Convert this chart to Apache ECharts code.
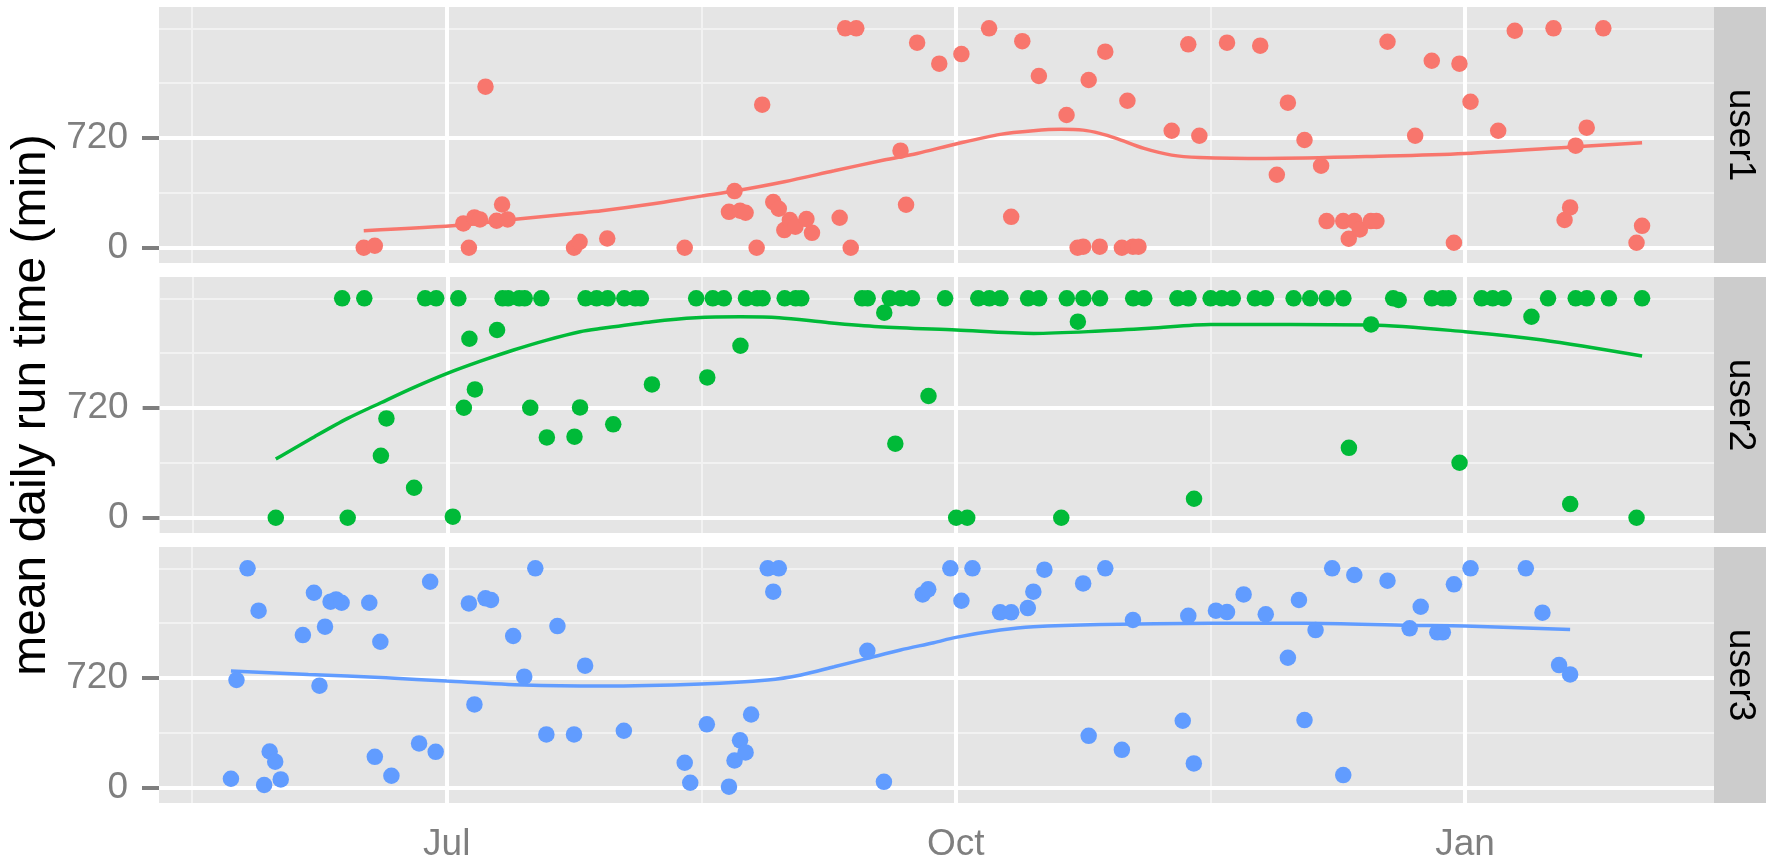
<!DOCTYPE html>
<html>
<head>
<meta charset="utf-8">
<script src="https://cdn.jsdelivr.net/npm/echarts@6/dist/echarts.min.js"></script>
<style>
  html, body { margin: 0; background: #fff; }
  #chart { width: 1766px; height: 864px; }
</style>
</head>
<body>
<div id="chart"></div>
<script>
// facet names and colours
const users = ['user1', 'user2', 'user3'];
const userColors = ['#F8766D', '#00BA38', '#619CFF'];

// x axis (dates) and y axis (minutes)
const xMin = '2012-05-10';
const xMax = '2013-02-15';
const xMajorDates = ['2012-07-01', '2012-10-01', '2013-01-01'];
const xTickLabels = ['Jul', 'Oct', 'Jan'];
const xMinorDates = ['2012-05-16', '2012-08-16', '2012-11-16'];
const yMajor = [0, 720];
const yMinor = [360, 1080, 1440];
const yTitle = 'mean daily run time (min)';

// points [date, minutes]
const user1Points = [
  ['2012-06-16',0],['2012-06-18',13],['2012-07-04',160],['2012-07-05',0],['2012-07-06',199],['2012-07-07',186],
  ['2012-07-08',1057],['2012-07-10',177],['2012-07-11',284],['2012-07-12',186],['2012-07-24',0],['2012-07-25',39],
  ['2012-07-30',61],['2012-08-13',0],['2012-08-21',236],['2012-08-22',372],['2012-08-23',243],['2012-08-24',230],
  ['2012-08-26',0],['2012-08-27',939],['2012-08-29',300],['2012-08-30',256],['2012-08-31',116],['2012-09-01',182],
  ['2012-09-02',138],['2012-09-04',188],['2012-09-05',98],['2012-09-10',197],['2012-09-11',1440],['2012-09-12',0],
  ['2012-09-13',1440],['2012-09-21',637],['2012-09-22',282],['2012-09-24',1346],['2012-09-28',1208],['2012-10-02',1271],
  ['2012-10-07',1440],['2012-10-11',203],['2012-10-13',1356],['2012-10-16',1127],['2012-10-21',871],['2012-10-23',0],
  ['2012-10-24',7],['2012-10-25',1101],['2012-10-27',7],['2012-10-28',1287],['2012-10-31',0],['2012-11-01',965],
  ['2012-11-02',7],['2012-11-03',7],['2012-11-09',768],['2012-11-12',1335],['2012-11-14',735],['2012-11-19',1346],
  ['2012-11-25',1326],['2012-11-28',479],['2012-11-30',952],['2012-12-03',707],['2012-12-06',538],['2012-12-07',175],
  ['2012-12-10',175],['2012-12-11',59],['2012-12-12',175],['2012-12-13',120],['2012-12-15',175],['2012-12-16',175],
  ['2012-12-18',1352],['2012-12-23',735],['2012-12-26',1227],['2012-12-30',33],['2012-12-31',1208],['2013-01-02',958],
  ['2013-01-07',768],['2013-01-10',1424],['2013-01-17',1440],['2013-01-19',182],['2013-01-20',265],['2013-01-21',670],
  ['2013-01-23',788],['2013-01-26',1440],['2013-02-01',33],['2013-02-02',144]
];
const user2Points = [
  ['2012-05-31',0],['2012-06-12',1440],['2012-06-13',0],['2012-06-16',1440],['2012-06-19',407],['2012-06-20',652],
  ['2012-06-25',197],['2012-06-27',1440],['2012-06-29',1440],['2012-07-02',7],['2012-07-03',1440],['2012-07-04',722],
  ['2012-07-05',1175],['2012-07-06',842],['2012-07-10',1232],['2012-07-11',1440],['2012-07-12',1440],['2012-07-14',1440],
  ['2012-07-15',1440],['2012-07-16',722],['2012-07-18',1440],['2012-07-19',527],['2012-07-24',532],['2012-07-25',724],
  ['2012-07-26',1440],['2012-07-28',1440],['2012-07-30',1440],['2012-07-31',613],['2012-08-02',1440],['2012-08-04',1440],
  ['2012-08-05',1440],['2012-08-07',875],['2012-08-15',1440],['2012-08-17',921],['2012-08-18',1440],['2012-08-20',1440],
  ['2012-08-23',1129],['2012-08-24',1440],['2012-08-26',1440],['2012-08-27',1440],['2012-08-31',1440],['2012-09-02',1440],
  ['2012-09-03',1440],['2012-09-14',1440],['2012-09-15',1440],['2012-09-18',1346],['2012-09-19',1440],['2012-09-20',486],
  ['2012-09-21',1440],['2012-09-23',1440],['2012-09-26',799],['2012-09-29',1440],['2012-10-01',0],['2012-10-03',0],
  ['2012-10-05',1440],['2012-10-07',1440],['2012-10-09',1440],['2012-10-14',1440],['2012-10-16',1440],['2012-10-20',0],
  ['2012-10-21',1440],['2012-10-23',1287],['2012-10-24',1440],['2012-10-27',1440],['2012-11-02',1440],['2012-11-04',1440],
  ['2012-11-10',1440],['2012-11-12',1440],['2012-11-13',125],['2012-11-16',1440],['2012-11-18',1440],['2012-11-20',1440],
  ['2012-11-24',1440],['2012-11-26',1440],['2012-12-01',1440],['2012-12-04',1440],['2012-12-07',1440],['2012-12-10',1440],
  ['2012-12-11',459],['2012-12-15',1269],['2012-12-19',1440],['2012-12-20',1429],['2012-12-26',1440],['2012-12-28',1440],
  ['2012-12-29',1440],['2012-12-31',361],['2013-01-04',1440],['2013-01-06',1440],['2013-01-08',1440],['2013-01-13',1319],
  ['2013-01-16',1440],['2013-01-20',90],['2013-01-21',1440],['2013-01-23',1440],['2013-01-27',1440],['2013-02-01',0],
  ['2013-02-02',1440]
];
const user3Points = [
  ['2012-05-23',59],['2012-05-24',707],['2012-05-26',1440],['2012-05-28',1162],['2012-05-29',18],['2012-05-30',238],
  ['2012-05-31',171],['2012-06-01',55],['2012-06-05',1002],['2012-06-07',1280],['2012-06-08',670],['2012-06-09',1057],
  ['2012-06-10',1221],['2012-06-11',1236],['2012-06-12',1214],['2012-06-17',1214],['2012-06-18',203],['2012-06-19',958],
  ['2012-06-21',79],['2012-06-26',291],['2012-06-28',1352],['2012-06-29',236],['2012-07-05',1210],['2012-07-06',547],
  ['2012-07-08',1243],['2012-07-09',1232],['2012-07-13',996],['2012-07-15',729],['2012-07-17',1440],['2012-07-19',350],
  ['2012-07-21',1061],['2012-07-24',350],['2012-07-26',801],['2012-08-02',374],['2012-08-13',164],['2012-08-14',33],
  ['2012-08-17',416],['2012-08-21',7],['2012-08-22',179],['2012-08-23',311],['2012-08-24',232],['2012-08-25',481],
  ['2012-08-28',1440],['2012-08-29',1287],['2012-08-30',1440],['2012-09-15',899],['2012-09-18',39],['2012-09-25',1269],
  ['2012-09-26',1302],['2012-09-30',1440],['2012-10-02',1227],['2012-10-04',1440],['2012-10-09',1151],['2012-10-11',1151],
  ['2012-10-14',1179],['2012-10-15',1287],['2012-10-17',1431],['2012-10-24',1341],['2012-10-25',341],['2012-10-28',1440],
  ['2012-10-31',249],['2012-11-02',1101],['2012-11-11',440],['2012-11-12',1129],['2012-11-13',160],['2012-11-17',1162],
  ['2012-11-19',1153],['2012-11-22',1269],['2012-11-26',1138],['2012-11-30',853],['2012-12-02',1232],['2012-12-03',444],
  ['2012-12-05',1035],['2012-12-08',1440],['2012-12-10',83],['2012-12-12',1396],['2012-12-18',1359],['2012-12-22',1046],
  ['2012-12-24',1188],['2012-12-27',1020],['2012-12-28',1020],['2012-12-30',1335],['2013-01-02',1440],['2013-01-12',1440],
  ['2013-01-15',1149],['2013-01-18',805],['2013-01-20',744]
];

// smoothed trend
const user1Smooth = [
  ['2012-06-16',112],['2012-07-04',149],['2012-07-12',182],['2012-07-24',225],['2012-07-29',243],['2012-08-07',287],
  ['2012-08-16',339],['2012-08-22',372],['2012-08-31',433],['2012-09-09',505],['2012-09-18',576],['2012-09-24',619],
  ['2012-10-01',681],['2012-10-09',744],['2012-10-15',768],['2012-10-20',777],['2012-10-24',772],['2012-10-27',751],
  ['2012-10-30',718],['2012-11-04',652],['2012-11-09',608],['2012-11-14',593],['2012-11-26',586],['2012-12-18',602],
  ['2013-01-01',619],['2013-01-21',663],['2013-02-02',689]
];
const user2Smooth = [
  ['2012-05-31',385],['2012-06-07',532],['2012-06-13',652],['2012-06-19',755],['2012-06-25',856],['2012-07-01',948],
  ['2012-07-07',1028],['2012-07-13',1101],['2012-07-19',1166],['2012-07-25',1221],['2012-07-29',1243],['2012-08-07',1287],
  ['2012-08-15',1313],['2012-08-23',1319],['2012-08-30',1313],['2012-09-08',1280],['2012-09-17',1254],['2012-10-01',1232],
  ['2012-10-15',1210],['2012-10-27',1225],['2012-11-05',1243],['2012-11-16',1269],['2012-12-15',1265],['2013-01-01',1221],
  ['2013-01-15',1166],['2013-02-02',1061]
];
const user3Smooth = [
  ['2012-05-23',766],['2012-06-06',744],['2012-06-20',722],['2012-07-01',700],['2012-07-15',674],['2012-07-29',667],
  ['2012-08-16',681],['2012-08-28',707],['2012-09-03',740],['2012-09-09',794],['2012-09-15',849],['2012-09-21',904],
  ['2012-09-27',952],['2012-10-01',987],['2012-10-09',1035],['2012-10-15',1057],['2012-10-27',1072],['2012-11-16',1079],
  ['2012-12-03',1079],['2012-12-22',1066],['2013-01-01',1061],['2013-01-20',1039]
];

const points = [user1Points, user2Points, user3Points];
const smooths = [user1Smooth, user2Smooth, user3Smooth];

// dates -> timestamps for a numeric x axis
function toTime(s) {
  const p = s.split('-').map(Number);
  return new Date(p[0], p[1] - 1, p[2]).getTime();
}
const asTimes = rows => rows.map(r => [toTime(r[0]), r[1]]);
const xMajorTimes = xMajorDates.map(toTime);
const xMinorTimes = xMinorDates.map(toTime);

const FONT = 'Liberation Sans, Arial, Helvetica, sans-serif';
const panelLeft = 159, panelRight = 52, panelH = 256;
const panelTops = [7, 277, 547];
const stripW = 52;
const chartW = 1766;

const minorStyle = { color: '#f2f2f2', width: 2, type: 'solid' };
const majorStyle = { color: '#ffffff', width: 4, type: 'solid' };
const tickStyle = { color: '#7f7f7f', width: 4 };

function gridLines() {
  return [].concat(
    yMinor.map(v => ({ yAxis: v, lineStyle: minorStyle })),
    xMinorTimes.map(v => ({ xAxis: v, lineStyle: minorStyle })),
    yMajor.map(v => ({ yAxis: v, lineStyle: majorStyle })),
    xMajorTimes.map(v => ({ xAxis: v, lineStyle: majorStyle }))
  );
}

const chart = echarts.init(document.getElementById('chart'));

const option = {
  animation: false,
  backgroundColor: '#ffffff',
  textStyle: { fontFamily: FONT },
  grid: panelTops.map(t => ({
    left: panelLeft, right: panelRight, top: t, height: panelH,
    show: true, backgroundColor: '#e5e5e5', borderWidth: 0
  })),
  xAxis: users.map((u, i) => ({
    type: 'value', gridIndex: i,
    min: toTime(xMin), max: toTime(xMax),
    axisLine: { show: false },
    splitLine: { show: false },
    axisTick: { show: i === 2, customValues: xMajorTimes, length: 15, lineStyle: tickStyle },
    axisLabel: {
      show: i === 2, customValues: xMajorTimes,
      formatter: v => xTickLabels[xMajorTimes.indexOf(v)] || '',
      fontSize: 37, color: '#7f7f7f', margin: 23, fontFamily: FONT
    }
  })),
  yAxis: users.map((u, i) => ({
    type: 'value', gridIndex: i, min: -100, max: 1580,
    axisLine: { show: false },
    splitLine: { show: false },
    axisTick: { show: true, customValues: yMajor, length: 17, lineStyle: tickStyle },
    axisLabel: { customValues: yMajor, fontSize: 37, color: '#7f7f7f', margin: 31, fontFamily: FONT },
    name: i === 1 ? yTitle : '',
    nameLocation: 'middle', nameRotate: 90, nameGap: 93,
    nameTextStyle: { fontSize: 48, color: '#000000', fontFamily: FONT }
  })),
  series: [].concat(...users.map((u, i) => [
    {
      name: u + ' trend', type: 'line', xAxisIndex: i, yAxisIndex: i,
      data: asTimes(smooths[i]), smooth: 0.3, showSymbol: false, z: 2,
      lineStyle: { color: userColors[i], width: 3.5 },
      silent: true,
      markLine: {
        silent: true, symbol: ['none', 'none'], z: 1,
        label: { show: false }, emphasis: { disabled: true },
        data: gridLines()
      }
    },
    {
      name: u, type: 'scatter', xAxisIndex: i, yAxisIndex: i,
      data: asTimes(points[i]), symbolSize: 16.5, z: 3,
      itemStyle: { color: userColors[i], opacity: 1 }
    }
  ])),
  graphic: [].concat(...users.map((u, i) => [
    {
      type: 'rect', silent: true,
      shape: { x: chartW - stripW, y: panelTops[i], width: stripW, height: panelH },
      style: { fill: '#cccccc' }
    },
    {
      type: 'text', silent: true,
      x: chartW - stripW / 2, y: panelTops[i] + panelH / 2, rotation: -Math.PI / 2,
      style: { text: u, fontSize: 37, fontFamily: FONT, fill: '#000000', align: 'center', verticalAlign: 'middle' }
    }
  ]))
};

chart.setOption(option);
</script>
</body>
</html>
